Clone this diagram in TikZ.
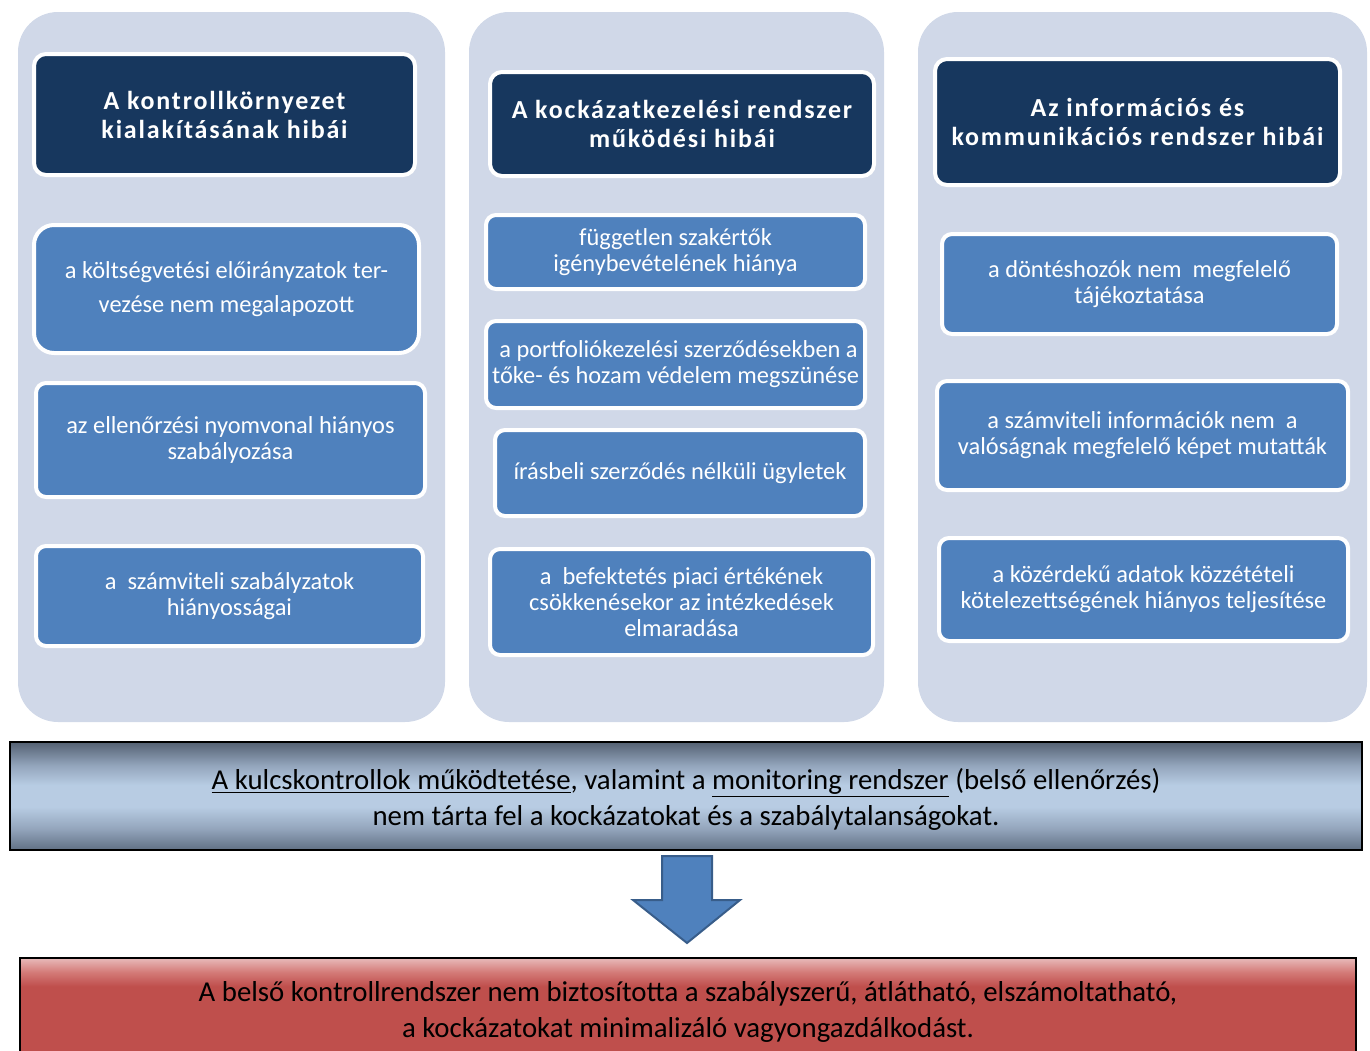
\documentclass[tikz,border=0pt]{standalone}
\usepackage{fontspec}
\setmainfont{Carlito}
\newfontfamily\hdfont[LetterSpace=7]{Carlito}
\definecolor{colbg}{RGB}{208,216,232}
\definecolor{navy}{RGB}{23,55,94}
\definecolor{midblue}{RGB}{79,129,189}
\definecolor{arrowedge}{RGB}{56,93,138}
\pgfdeclareverticalshading{grayband}{100bp}{rgb(0bp)=(0.38,0.44,0.52); rgb(25bp)=(0.38,0.44,0.52); rgb(35bp)=(0.58,0.65,0.74); rgb(45bp)=(0.72,0.80,0.89); rgb(55bp)=(0.72,0.80,0.89); rgb(64bp)=(0.58,0.65,0.74); rgb(75bp)=(0.33,0.38,0.45); rgb(100bp)=(0.33,0.38,0.45)}
\pgfdeclareverticalshading{redband}{100bp}{rgb(0bp)=(0.75,0.31,0.30); rgb(61bp)=(0.75,0.31,0.30); rgb(68bp)=(0.83,0.48,0.47); rgb(75bp)=(0.91,0.73,0.73); rgb(100bp)=(0.91,0.73,0.73)}
\tikzset{
  colbox/.style={fill=colbg, draw=none, rounded corners=20pt, inner sep=0pt},
  hdbox/.style={fill=navy, draw=white, line width=2pt, rounded corners=6pt, text=white,
    align=center, inner sep=0pt, font=\hdfont\bfseries\fontsize{13}{14.5}\selectfont},
  itembox/.style={fill=midblue, draw=white, line width=2pt, rounded corners=5pt, text=white,
    align=center, inner sep=0pt, font=\fontsize{12.2}{13}\selectfont},
  bandbox/.style={draw=black, line width=1pt, inner sep=0pt},
  bandtext/.style={inner sep=0pt, align=center, text=black, font=\fontsize{14.4}{18}\selectfont},
  blockarrow/.style={fill=midblue, draw=arrowedge, line width=1pt, line join=miter},
}
\begin{document}
\begin{tikzpicture}[x=0.5pt,y=-0.5pt]
\useasboundingbox (0,0) rectangle (1370,1050);
% column backgrounds
\node[colbox, minimum width=213.5pt, minimum height=355pt] (col1) at (231.5,367) {};
\node[colbox, minimum width=207.5pt, minimum height=355pt] (col2) at (676.5,367) {};
\node[colbox, minimum width=224.5pt, minimum height=355pt] (col3) at (1142.5,367) {};
% headers
\node[hdbox, minimum width=190.5pt, minimum height=60.5pt] (h1) at (224.5,114.5)
  {A kontrollkörnyezet\\kialakításának hibái};
\node[hdbox, minimum width=192pt, minimum height=52pt] (h2) at (682,124)
  {A kockázatkezelési rendszer\\működési hibái};
\node[hdbox, minimum width=202.5pt, minimum height=63pt] (h3) at (1137.5,122)
  {Az információs és\\kommunikációs rendszer hibái};
% column 1 items
\node[itembox, rounded corners=10pt, minimum width=192.5pt, minimum height=64pt,
  font=\fontsize{12.2}{17}\selectfont] (b1) at (226.5,289)
  {a költségvetési előirányzatok ter-\\vezése nem megalapozott};
\node[itembox, minimum width=194.5pt, minimum height=57pt] (b2) at (230.5,440)
  {az ellenőrzési nyomvonal hiányos\\szabályozása};
\node[itembox, minimum width=193.5pt, minimum height=50pt] (b3) at (229.5,596)
  {a~ számviteli szabályzatok\\hiányosságai};
% column 2 items
\node[itembox, minimum width=189.5pt, minimum height=37pt] (c1) at (675.5,252)
  {független szakértők\\igénybevételének hiánya};
\node[itembox, minimum width=189.5pt, minimum height=43.5pt] (c2) at (675.5,364.5)
  {\hspace*{3pt}a portfoliókezelési szerződésekben a\\tőke- és hozam védelem megszünése};
\node[itembox, minimum width=185pt, minimum height=43pt] (c3) at (680,473)
  {írásbeli szerződés nélküli ügyletek};
\node[itembox, minimum width=191.5pt, minimum height=53pt] (c4) at (681.5,602)
  {a~ befektetés piaci értékének\\csökkenésekor az intézkedések\\elmaradása};
% column 3 items
\node[itembox, minimum width=197.5pt, minimum height=50pt] (d1) at (1139.5,284)
  {a döntéshozók nem~ megfelelő\\tájékoztatása};
\node[itembox, minimum width=205.5pt, minimum height=54.5pt] (d2) at (1142.5,435.5)
  {a számviteli információk nem~ a\\valóságnak megfelelő képet mutatták};
\node[itembox, minimum width=204.5pt, minimum height=51.5pt] (d3) at (1143.5,589.5)
  {a közérdekű adatok közzétételi\\kötelezettségének hiányos teljesítése};
% bottom bands
\node[bandbox, shading=grayband, minimum width=676pt, minimum height=54pt] (gray) at (686,796) {};
\node[bandtext] (graytxt) at (686,799)
  {\underline{A kulcskontrollok működtetése}, valamint a \underline{monitoring rendszer} (belső ellenőrzés)\\nem tárta fel a kockázatokat és a szabálytalanságokat.};
\node[bandbox, shading=redband, minimum width=668pt, minimum height=50.5pt] (red) at (688,1008.5) {};
\node[bandtext] (redtxt) at (688,1011.5)
  {A belső kontrollrendszer nem biztosította a szabályszerű, átlátható, elszámoltatható,\\a kockázatokat minimalizáló vagyongazdálkodást.};
% block arrow from gray band to red band
\coordinate (atop) at ([yshift=-2.5pt]gray.south -| 687,0);
\coordinate (atip) at ([yshift=7pt]red.north -| 687,0);
\draw[blockarrow] ([xshift=-12.5pt]atop) -- ([xshift=12.5pt]atop)
  -- ([xshift=12.5pt]atop |- 0,900) -- (740,900) -- (atip) -- (633,900)
  -- ([xshift=-12.5pt]atop |- 0,900) -- cycle;
\end{tikzpicture}
\end{document}
